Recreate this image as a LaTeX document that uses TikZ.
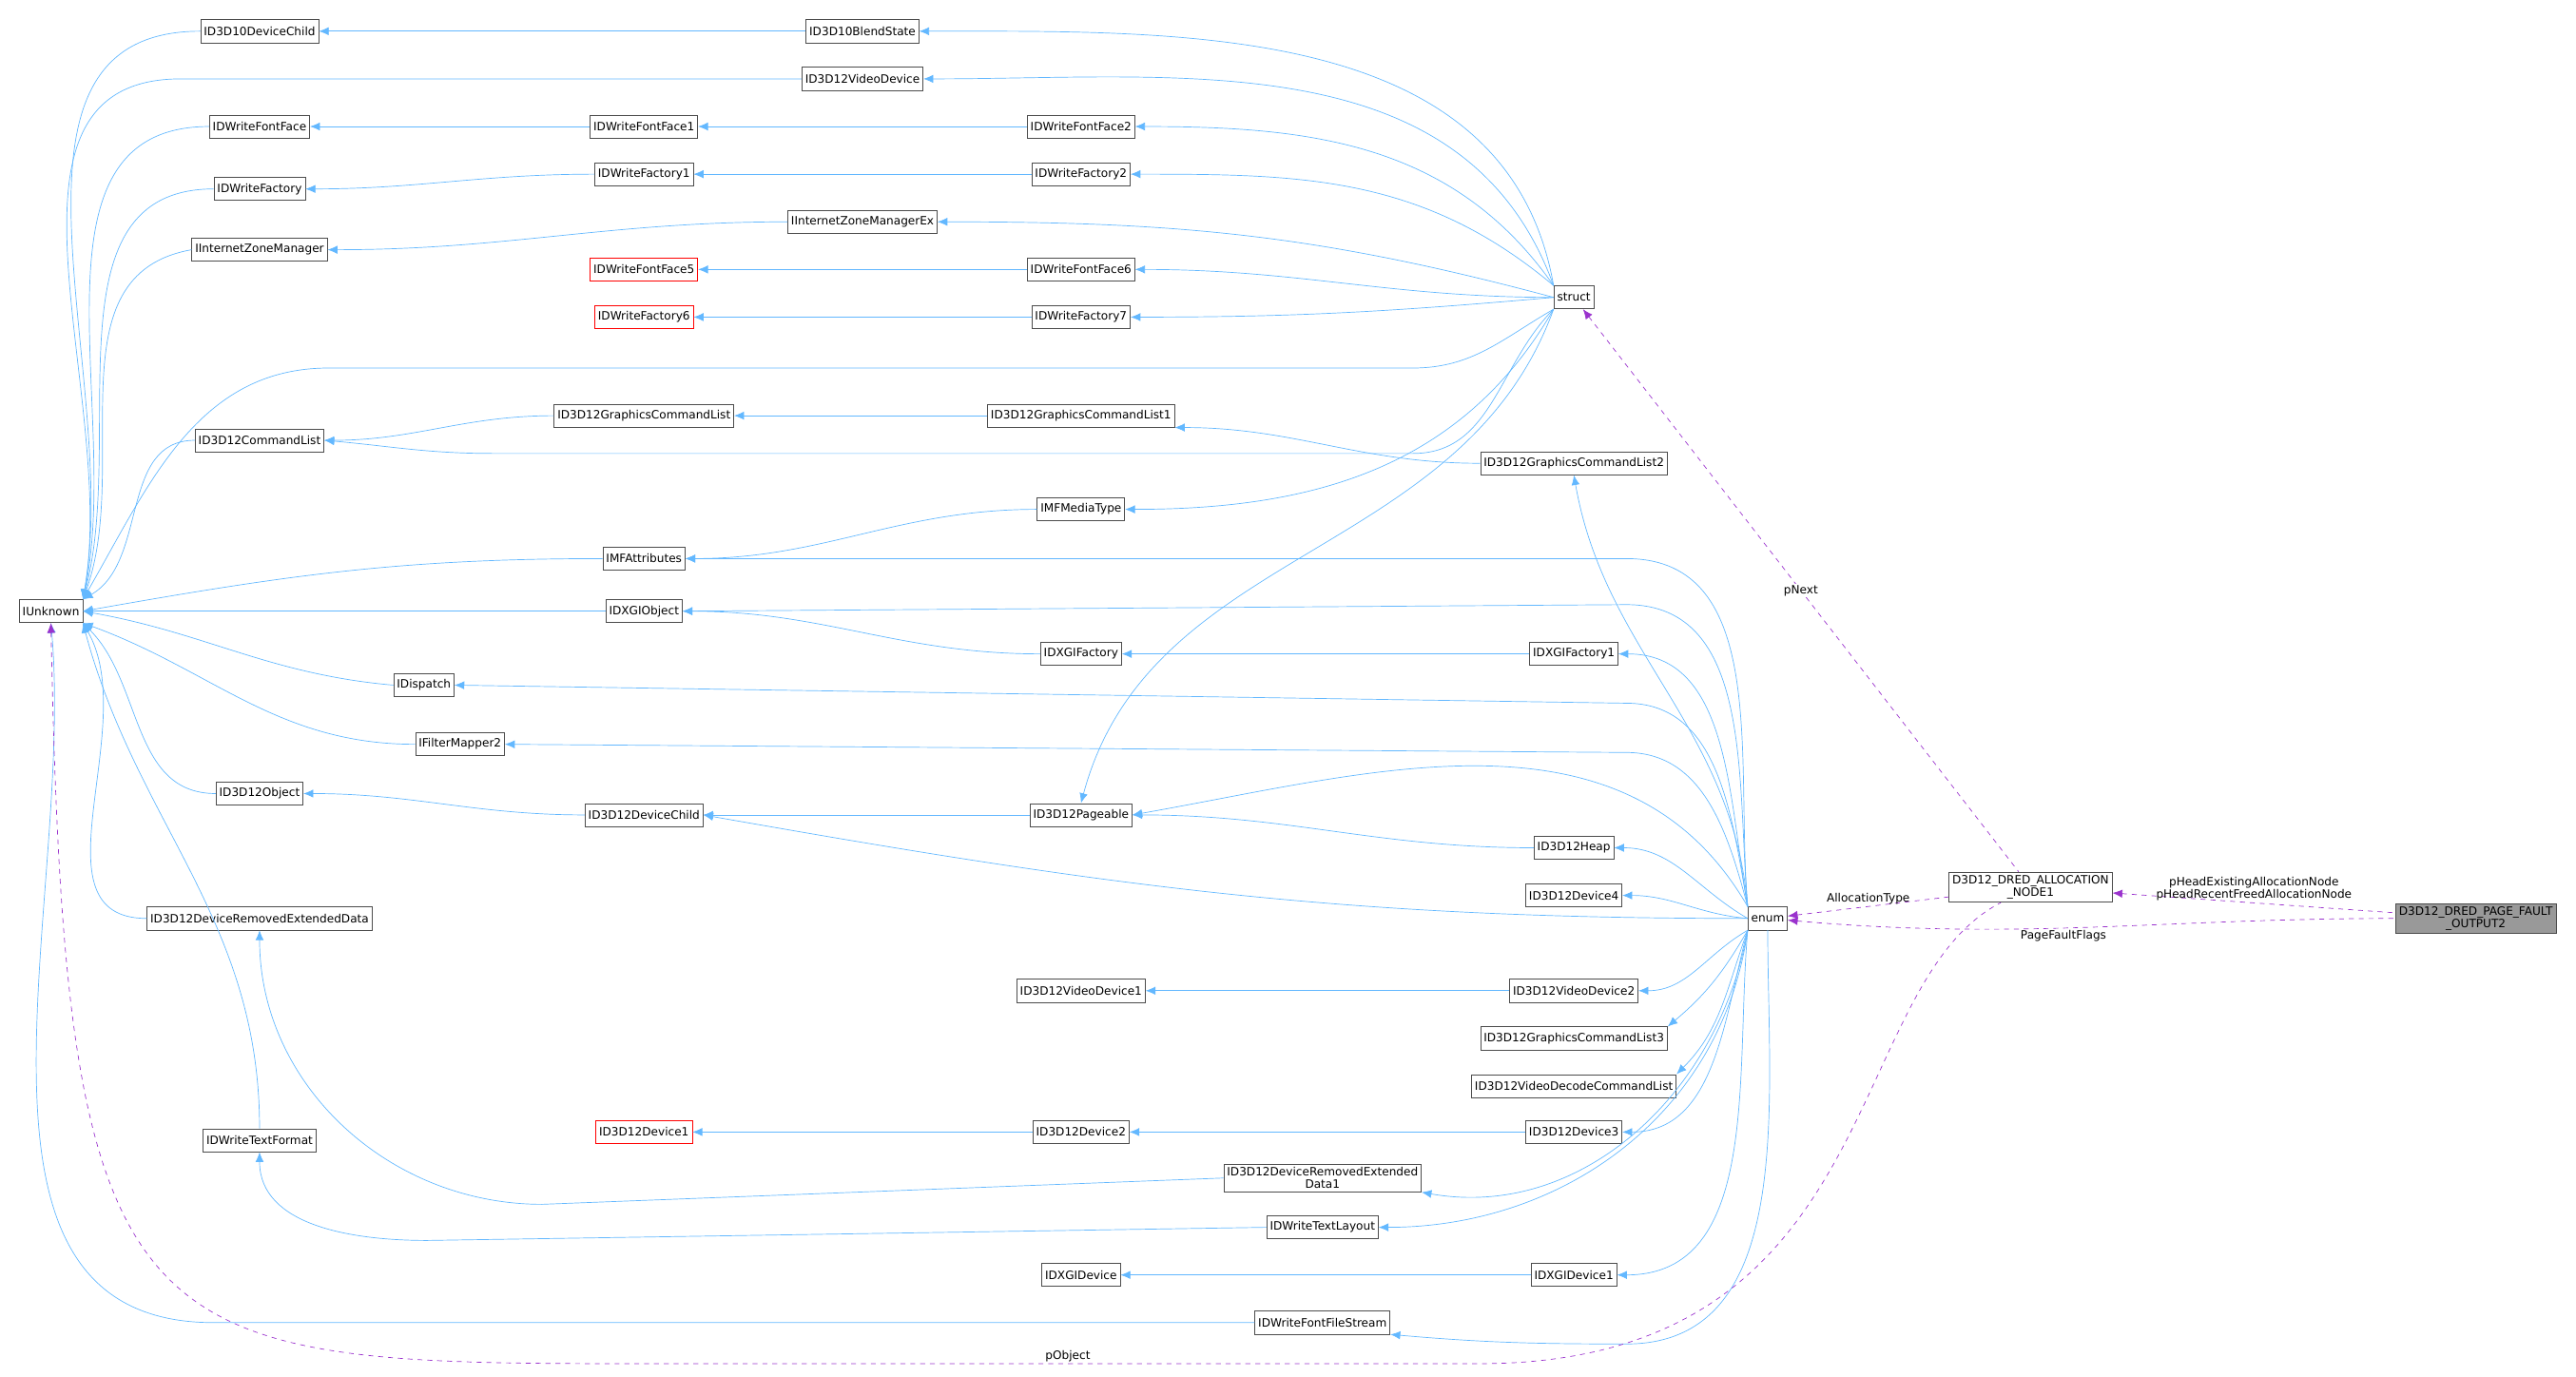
\documentclass[tikz,border=0pt]{standalone}
\usepackage{fontspec}
\setmainfont{DejaVu Sans}
\usetikzlibrary{arrows.meta}
\definecolor{inh}{HTML}{63B8FF}
\definecolor{usg}{HTML}{9A32CD}
\tikzset{
    cls/.style = {rectangle, draw=gray!60!black, fill=white, inner sep=2pt, minimum height=14pt, align=center, font=\fontsize{7}{7.5}\selectfont},
    clsr/.style = {cls, draw=red},
    clsg/.style = {cls, fill=gray!80},
    edgei/.style = {{Latex[length=6pt,width=5pt]}-, inh},
    edgeu/.style = {{Latex[length=6pt,width=5pt]}-, usg, dashed},
    lbl/.style = {font=\fontsize{7}{7.5}\selectfont, inner sep=1pt, align=center, text=black}
}
\begin{document}
\begin{tikzpicture}[x=1pt,y=-1pt]
\path[use as bounding box] (0,0) rectangle (1568,838);
%
\node[cls] at (31,372) (iu) {IUnknown};
\node[cls] at (158,19) (d10dc) {ID3D10DeviceChild};
\node[cls] at (525,19) (d10bs) {ID3D10BlendState};
\node[cls] at (525,48) (vdev) {ID3D12VideoDevice};
\node[cls] at (158,77) (ff) {IDWriteFontFace};
\node[cls] at (392,77) (ff1) {IDWriteFontFace1};
\node[cls] at (658,77) (ff2) {IDWriteFontFace2};
\node[cls] at (158,115) (fa) {IDWriteFactory};
\node[cls] at (392,106) (fa1) {IDWriteFactory1};
\node[cls] at (658,106) (fa2) {IDWriteFactory2};
\node[cls] at (158,152) (izm) {IInternetZoneManager};
\node[cls] at (525,135) (izmx) {IInternetZoneManagerEx};
\node[clsr] at (392,164) (ff5) {IDWriteFontFace5};
\node[cls] at (658,164) (ff6) {IDWriteFontFace6};
\node[clsr] at (392,193) (fa6) {IDWriteFactory6};
\node[cls] at (658,193) (fa7) {IDWriteFactory7};
\node[cls] at (958,181) (st) {struct};
\node[cls] at (158,268) (cl) {ID3D12CommandList};
\node[cls] at (392,253) (gcl) {ID3D12GraphicsCommandList};
\node[cls] at (658,253) (gcl1) {ID3D12GraphicsCommandList1};
\node[cls] at (958,282) (gcl2) {ID3D12GraphicsCommandList2};
\node[cls] at (658,310) (mft) {IMFMediaType};
\node[cls] at (392,340) (mfa) {IMFAttributes};
\node[cls] at (392,372) (dxo) {IDXGIObject};
\node[cls] at (658,398) (dxf) {IDXGIFactory};
\node[cls] at (958,398) (dxf1) {IDXGIFactory1};
\node[cls] at (258,417) (disp) {IDispatch};
\node[cls] at (280,453) (fm2) {IFilterMapper2};
\node[cls] at (158,483) (obj) {ID3D12Object};
\node[cls] at (392,496) (dch) {ID3D12DeviceChild};
\node[cls] at (658,496) (pg) {ID3D12Pageable};
\node[cls] at (958,516) (heap) {ID3D12Heap};
\node[cls] at (958,545) (dev4) {ID3D12Device4};
\node[cls] at (158,559) (dred) {ID3D12DeviceRemovedExtendedData};
\node[cls] at (1076,559) (en) {enum};
\node[cls] at (1236,540) (an1) {D3D12\_DRED\_ALLOCATION\\\_NODE1};
\node[clsg] at (1507,559) (pfo) {D3D12\_DRED\_PAGE\_FAULT\\\_OUTPUT2};
\node[cls] at (658,603) (vd1) {ID3D12VideoDevice1};
\node[cls] at (958,603) (vd2) {ID3D12VideoDevice2};
\node[cls] at (958,632) (gcl3) {ID3D12GraphicsCommandList3};
\node[cls] at (958,661) (vdcl) {ID3D12VideoDecodeCommandList};
\node[clsr] at (392,689) (dev1) {ID3D12Device1};
\node[cls] at (658,689) (dev2) {ID3D12Device2};
\node[cls] at (958,689) (dev3) {ID3D12Device3};
\node[cls] at (158,694) (tf) {IDWriteTextFormat};
\node[cls] at (805,717) (dred1) {ID3D12DeviceRemovedExtended\\Data1};
\node[cls] at (805,747) (tl) {IDWriteTextLayout};
\node[cls] at (658,776) (dxd) {IDXGIDevice};
\node[cls] at (958,776) (dxd1) {IDXGIDevice1};
\node[cls] at (805,805) (ffs) {IDWriteFontFileStream};
\coordinate (stl) at (200,224);
\coordinate (stm) at (860,224);
\coordinate (cll) at (300,276);
\coordinate (clm) at (860,276);
\coordinate (vdl) at (110,48);
\coordinate (ffsl) at (130,805);
\coordinate (tll) at (260,755);
\coordinate (drl) at (330,733);
\coordinate (mfar) at (990,340);
\coordinate (dxor) at (990,368);
\coordinate (dispr) at (990,428);
\coordinate (fmr) at (990,458);
\coordinate (ffsr) at (990,818);
%
\draw[edgei] (iu.north east) to[out=80,in=180] (d10dc.west);
\draw[edgei] (iu.north east) to[out=80,in=180] (vdl) -- (vdev.west);
\draw[edgei] (iu.north east) to[out=78,in=180] (ff.west);
\draw[edgei] (iu.north east) to[out=75,in=180] (fa.west);
\draw[edgei] (iu.north east) to[out=70,in=190] (izm.west);
\draw[edgei] (iu.north east) to[out=60,in=180] (stl) -- (stm) to[out=0,in=210] (st.south west);
\draw[edgei] (iu.north east) to[out=30,in=180] (cl.west);
\draw[edgei] (iu.east) to[out=10,in=180] (mfa.west);
\draw[edgei] (iu.east) -- (dxo.west);
\draw[edgei] (iu.east) to[out=-10,in=175] (disp.west);
\draw[edgei] (iu.south east) to[out=-20,in=180] (fm2.west);
\draw[edgei] (iu.south east) to[out=-45,in=180] (obj.west);
\draw[edgei] (iu.south east) to[out=-60,in=180] (dred.west);
\draw[edgei] (iu.south east) to[out=-75,in=90] (tf.north);
\draw[edgei] (iu.south) to[out=-85,in=180] (ffsl) -- (ffs.west);
%
\draw[edgei] (d10dc) -- (d10bs);
\draw[edgei] (ff) -- (ff1);
\draw[edgei] (ff1) -- (ff2);
\draw[edgei] (fa.east) to[out=0,in=180] (fa1.west);
\draw[edgei] (fa1) -- (fa2);
\draw[edgei] (izm.east) to[out=0,in=180] (izmx.west);
\draw[edgei] (ff5) -- (ff6);
\draw[edgei] (fa6) -- (fa7);
\draw[edgei] (cl.east) to[out=0,in=180] (gcl.west);
\draw[edgei] (gcl) -- (gcl1);
\draw[edgei] (gcl1.south east) to[out=0,in=180] (gcl2.west);
\draw[edgei] (mfa.east) to[out=0,in=180] (mft.west);
\draw[edgei] (dxo.east) to[out=0,in=180] (dxf.west);
\draw[edgei] (dxf) -- (dxf1);
\draw[edgei] (obj.east) to[out=0,in=180] (dch.west);
\draw[edgei] (dch) -- (pg);
\draw[edgei] (pg.east) to[out=0,in=180] (heap.west);
\draw[edgei] (dred.south) to[out=-90,in=180] (drl) -- (dred1.west);
\draw[edgei] (vd1) -- (vd2);
\draw[edgei] (dev1) -- (dev2);
\draw[edgei] (dev2) -- (dev3);
\draw[edgei] (tf.south) to[out=-90,in=180] (tll) -- (tl.west);
\draw[edgei] (dxd) -- (dxd1);
%
\draw[edgei] (d10bs.east) to[out=0,in=100] (st.north west);
\draw[edgei] (vdev.east) to[out=0,in=110] (st.north west);
\draw[edgei] (ff2.east) to[out=0,in=125] (st.north west);
\draw[edgei] (fa2.east) to[out=0,in=140] (st.north west);
\draw[edgei] (izmx.east) to[out=0,in=165] (st.west);
\draw[edgei] (ff6.east) to[out=0,in=180] (st.west);
\draw[edgei] (fa7.east) to[out=0,in=185] (st.west);
\draw[edgei] (cl.east) to[out=-5,in=180] (cll) -- (clm) to[out=0,in=225] (st.south west);
\draw[edgei] (mft.east) to[out=0,in=240] (st.south west);
\draw[edgei] (pg.north) to[out=75,in=250] (st.south west);
%
\draw[edgei] (gcl2.south) to[out=-80,in=95] (en.north west);
\draw[edgei] (mfa.east) -- (mfar) to[out=0,in=95] (en.north west);
\draw[edgei] (dxo.east) -- (dxor) to[out=0,in=95] (en.north west);
\draw[edgei] (dxf1.east) to[out=0,in=100] (en.north west);
\draw[edgei] (disp.east) -- (dispr) to[out=0,in=100] (en.north west);
\draw[edgei] (fm2.east) -- (fmr) to[out=0,in=105] (en.north west);
\draw[edgei] (pg.east) to[out=10,in=120] (en.north west);
\draw[edgei] (heap.east) to[out=0,in=150] (en.west);
\draw[edgei] (dch.east) to[out=-10,in=180] (en.west);
\draw[edgei] (dev4.east) to[out=0,in=175] (en.west);
\draw[edgei] (vd2.east) to[out=0,in=210] (en.south west);
\draw[edgei] (gcl3.north east) to[out=40,in=240] (en.south west);
\draw[edgei] (vdcl.north east) to[out=45,in=250] (en.south west);
\draw[edgei] (dev3.east) to[out=0,in=255] (en.south west);
\draw[edgei] (dred1.south east) to[out=-10,in=260] (en.south west);
\draw[edgei] (tl.east) to[out=0,in=262] (en.south west);
\draw[edgei] (dxd1.east) to[out=0,in=265] (en.south west);
\draw[edgei] (ffs.south east) to[out=-5,in=180] (ffsr) to[out=0,in=270] (en.south);
%
\draw[edgeu] (st) to node[lbl,fill=white] {pNext} (an1);
\draw[edgeu] (en) to node[lbl,above] {AllocationType} (an1);
\draw[edgeu] (an1) to node[lbl,above] {pHeadExistingAllocationNode\\pHeadRecentFreedAllocationNode} (pfo);
\draw[edgeu] (en) to[out=-5,in=180] node[lbl,below,pos=0.45] {PageFaultFlags} (pfo);
\draw[edgeu] (iu.south) .. controls (40,830) and (80,830) .. (400,830) -- node[lbl,above] {pObject} (900,830) .. controls (1150,830) and (1120,600) .. (an1);
\end{tikzpicture}
\end{document}
